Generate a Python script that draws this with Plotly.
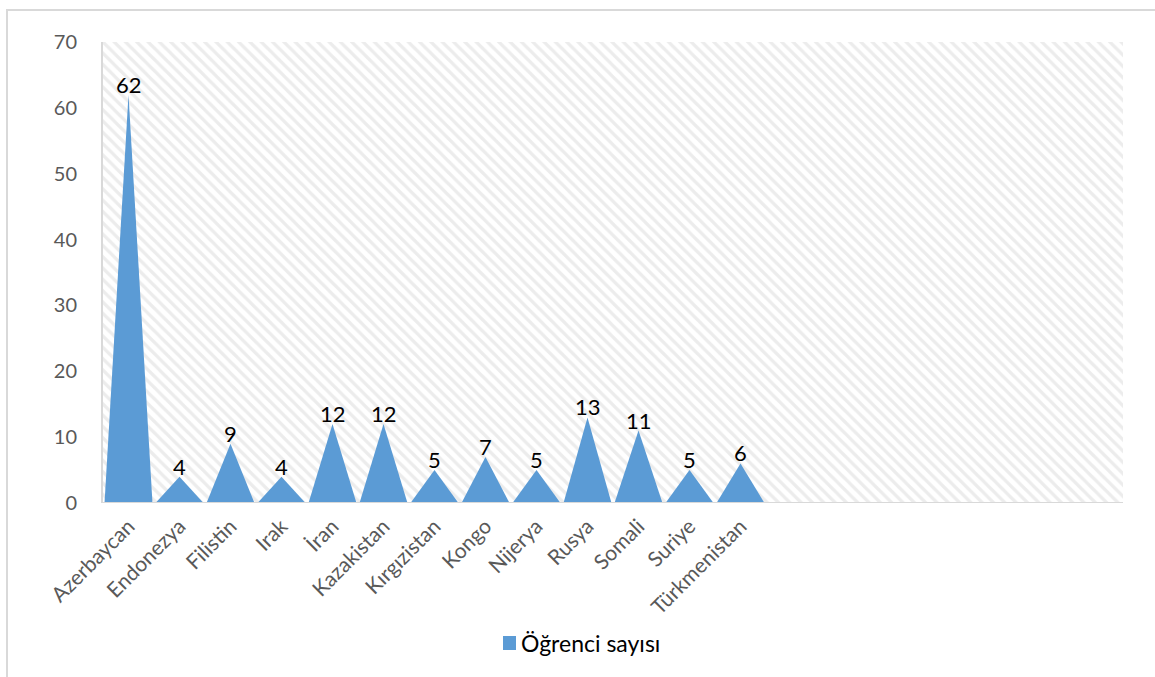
import plotly.graph_objects as go

categories = ["Azerbaycan", "Endonezya", "Filistin", "Irak", "İran", "Kazakistan",
              "Kırgızistan", "Kongo", "Nijerya", "Rusya", "Somali", "Suriye", "Türkmenistan"]
values = [62, 4, 9, 4, 12, 12, 5, 7, 5, 13, 11, 5, 6]
series_name = "Öğrenci sayısı"
n_slots = 20          # category slots on the axis (Excel range incl. empty rows)
y_max = 70
y_ticks = [0, 10, 20, 30, 40, 50, 60, 70]

BLUE = "#5B9BD5"
GRAY_TXT = "#595959"
FONT = "Lato"

fig = go.Figure()

# hatched plot-area background
fig.add_trace(go.Bar(
    x=[(n_slots - 1) / 2], y=[y_max], width=[n_slots], base=0,
    marker=dict(color="white", line=dict(width=0),
                pattern=dict(shape="\\", fgcolor="#d9d9d9", bgcolor="white",
                             size=8, solidity=0.4)),
    showlegend=False, hoverinfo="skip"))

# triangles
half = 0.47
for i, v in enumerate(values):
    fig.add_trace(go.Scatter(
        x=[i - half, i, i + half, i - half], y=[0, v, 0, 0],
        mode="lines", fill="toself", fillcolor=BLUE,
        line=dict(width=0, color=BLUE), showlegend=False, hoverinfo="skip"))

# data labels
annotations = []
for i, v in enumerate(values):
    annotations.append(dict(
        x=i, y=v, xref="x", yref="y", text=str(v), showarrow=False,
        xanchor="center", yanchor="bottom", yshift=-5,
        font=dict(family=FONT, size=22, color="black")))

# legend (drawn like Excel's legend)
leg_y = (503 - 643) / 461
annotations.append(dict(
    x=(519 - 103) / 1020, y=leg_y, xref="paper", yref="paper",
    text=series_name, showarrow=False, xanchor="left", yanchor="middle",
    font=dict(family=FONT, size=23, color="black")))

fig.update_layout(
    width=1155, height=677,
    margin=dict(l=103, r=32, t=42, b=174),
    paper_bgcolor="white", plot_bgcolor="white",
    font=dict(family=FONT, color=GRAY_TXT),
    barmode="overlay",
    showlegend=False,
    annotations=annotations,
    xaxis=dict(range=[-0.5, n_slots - 0.5], tickmode="array",
               tickvals=list(range(len(categories))), ticktext=categories,
               tickangle=-45, showgrid=False, zeroline=False,
               showline=False, ticks="", ticklabelstandoff=6,
               tickfont=dict(family=FONT, size=21, color=GRAY_TXT)),
    yaxis=dict(range=[0, y_max], tickmode="array", tickvals=y_ticks,
               showgrid=False, zeroline=False, ticks="",
               showline=True, linecolor="#d9d9d9", linewidth=2,
               ticklabelstandoff=20,
               tickfont=dict(family=FONT, size=20, color=GRAY_TXT)),
    shapes=[
        # chart outer frame (right/bottom outside the view)
        dict(type="rect", xref="paper", yref="paper",
             x0=(7 - 103) / 1020, x1=1.2, y0=-0.6, y1=(503 - 10) / 461,
             line=dict(color="#d9d9d9", width=2), fillcolor="rgba(0,0,0,0)",
             layer="below"),
        # category axis line
        dict(type="line", xref="paper", yref="y", x0=0, x1=1, y0=0, y1=0,
             line=dict(color="#d9d9d9", width=2), layer="above"),
        # legend key
        dict(type="rect", xref="paper", yref="paper",
             x0=(503 - 103) / 1020, x1=(516 - 103) / 1020,
             y0=(503 - 650) / 461, y1=(503 - 636) / 461,
             fillcolor=BLUE, line=dict(width=0)),
    ],
)

fig.write_html("out.html")
